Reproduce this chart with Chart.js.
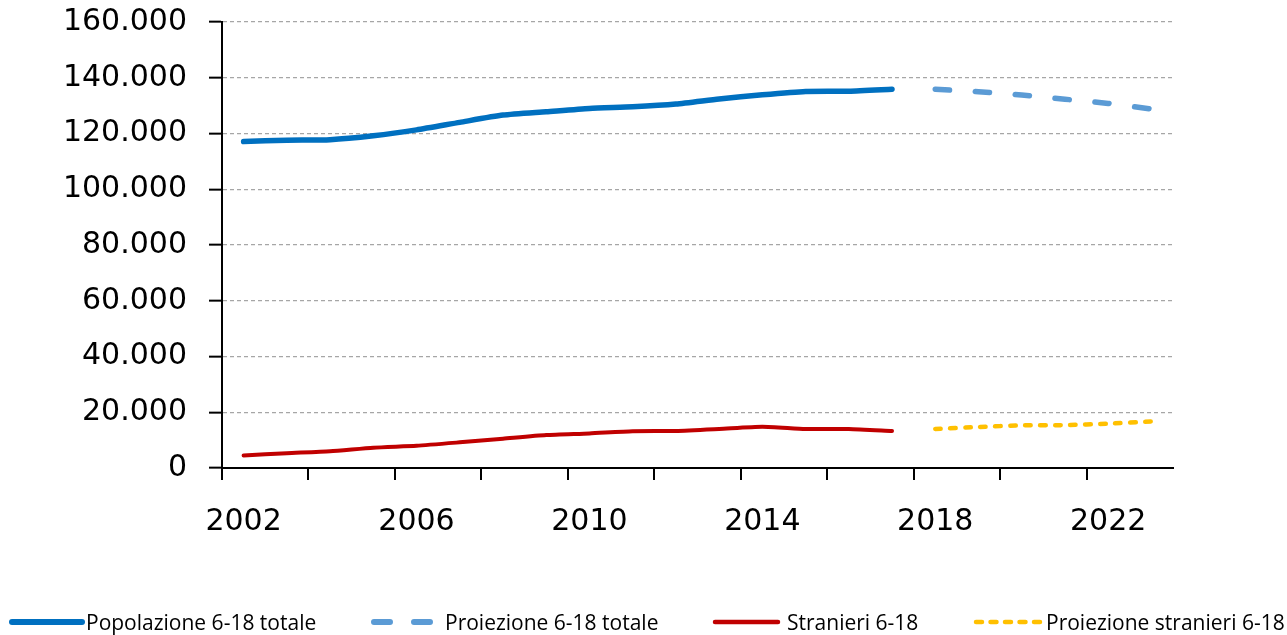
<!DOCTYPE html>
<html>
<head>
<meta charset="utf-8">
<script src="https://cdn.jsdelivr.net/npm/chart.js@4.4.1/dist/chart.umd.min.js"></script>
<style>
  html, body { margin: 0; padding: 0; background: #fff; }
  #wrap { position: relative; width: 1287px; height: 635px; overflow: hidden; }
  #c { position: absolute; left: 0; top: 0; }
  .lg-text { position: absolute; top: 608px; font-family: "Open Sans", "Noto Sans", sans-serif; font-size: 21px; line-height: 28px; color: #000; white-space: nowrap; }
  .lg-line { position: absolute; top: 612px; }
</style>
</head>
<body>
<div id="wrap">
  <canvas id="c" width="1287" height="635"></canvas>
  <svg class="lg-line" style="left:0px" width="100" height="20"><line x1="12" y1="10" x2="82" y2="10" stroke="#0070C0" stroke-width="6" stroke-linecap="round"/></svg>
  <div class="lg-text" style="left:86px">Popolazione 6-18 totale</div>
  <svg class="lg-line" style="left:360px" width="90" height="20"><line x1="14" y1="10" x2="72" y2="10" stroke="#5B9BD5" stroke-width="6" stroke-linecap="round" stroke-dasharray="16 24"/></svg>
  <div class="lg-text" style="left:445px">Proiezione 6-18 totale</div>
  <svg class="lg-line" style="left:700px" width="90" height="20"><line x1="15" y1="10" x2="78" y2="10" stroke="#C00000" stroke-width="4.5" stroke-linecap="round"/></svg>
  <div class="lg-text" style="left:787px">Stranieri 6-18</div>
  <svg class="lg-line" style="left:960px" width="90" height="20"><line x1="16" y1="10" x2="80" y2="10" stroke="#FFC000" stroke-width="4.5" stroke-linecap="round" stroke-dasharray="6 8.5"/></svg>
  <div class="lg-text" style="left:1046px">Proiezione stranieri 6-18</div>
</div>
<script>
const years = ["2002","2003","2004","2005","2006","2007","2008","2009","2010","2011","2012","2013","2014","2015","2016","2017","2018","2019","2020","2021","2022","2023"];
const popolazioneTotale = [117100,117600,117800,119200,121300,124000,126600,127800,129000,129600,130600,132400,133900,135100,135200,135900,null,null,null,null,null,null];
const proiezioneTotale = [null,null,null,null,null,null,null,null,null,null,null,null,null,null,null,null,135900,135000,133800,132300,130800,128800];
const stranieri = [4500,5300,6000,7300,8000,9200,10500,11800,12400,13200,13300,14000,14800,14000,14000,13300,null,null,null,null,null,null];
const proiezioneStranieri = [null,null,null,null,null,null,null,null,null,null,null,null,null,null,null,null,14000,14700,15300,15400,15900,16700];
const yTicks = [0,20000,40000,60000,80000,100000,120000,140000,160000];

function fmt(v) {
  const s = String(Math.round(v));
  return s.replace(/\B(?=(\d{3})+(?!\d))/g, ".");
}

new Chart(document.getElementById('c'), {
  type: 'line',
  data: {
    labels: years,
    datasets: [
      { label: 'Popolazione 6-18 totale', data: popolazioneTotale, borderColor: '#0070C0', borderWidth: 5.5, borderCapStyle: 'round', borderJoinStyle: 'round', tension: 0.2, pointRadius: 0, fill: false },
      { label: 'Proiezione 6-18 totale', data: proiezioneTotale, borderColor: '#5B9BD5', borderWidth: 5.5, borderCapStyle: 'round', borderDash: [14.5, 25.5], tension: 0.2, pointRadius: 0, fill: false },
      { label: 'Stranieri 6-18', data: stranieri, borderColor: '#C00000', borderWidth: 4, borderCapStyle: 'round', borderJoinStyle: 'round', tension: 0.2, pointRadius: 0, fill: false },
      { label: 'Proiezione stranieri 6-18', data: proiezioneStranieri, borderColor: '#FFC000', borderWidth: 4.5, borderCapStyle: 'round', borderDash: [5.5, 9.5], tension: 0.2, pointRadius: 0, fill: false }
    ]
  },
  options: {
    responsive: false,
    animation: false,
    layout: { padding: { top: 22, right: 114, left: 0, bottom: 0 } },
    plugins: { legend: { display: false }, tooltip: { enabled: false } },
    scales: {
      x: {
        offset: true,
        afterFit: (s) => { s.height = 167; s.paddingLeft = 0; s.paddingRight = 0; },
        grid: {
          offset: true,
          drawOnChartArea: false,
          drawTicks: true,
          tickLength: 12,
          lineWidth: 2,
          color: (ctx) => (ctx.index % 2 === 0 ? '#000' : 'rgba(0,0,0,0)')
        },
        border: { display: true, color: '#000', width: 2 },
        ticks: {
          autoSkip: false,
          maxRotation: 0,
          padding: 24,
          color: '#000',
          font: { family: '"DejaVu Sans", Verdana, sans-serif', size: 30 },
          callback: function (val, i) { return i % 4 === 0 ? years[i] : ''; }
        }
      },
      y: {
        min: 0,
        max: 160000,
        afterFit: (s) => { s.width = 222; s.paddingTop = 0; s.paddingBottom = 0; },
        afterBuildTicks: (s) => { s.ticks = yTicks.map(v => ({ value: v })); },
        grid: {
          color: '#a6a6a6',
          lineWidth: 1.3,
          tickColor: '#000',
          tickLength: 13,
          tickWidth: 2
        },
        border: { display: true, color: '#000', width: 2, dash: [4, 3] },
        ticks: {
          padding: 22,
          color: '#000',
          font: { family: '"DejaVu Sans", Verdana, sans-serif', size: 30 },
          callback: (v) => fmt(v)
        }
      }
    }
  }
});
</script>
</body>
</html>
